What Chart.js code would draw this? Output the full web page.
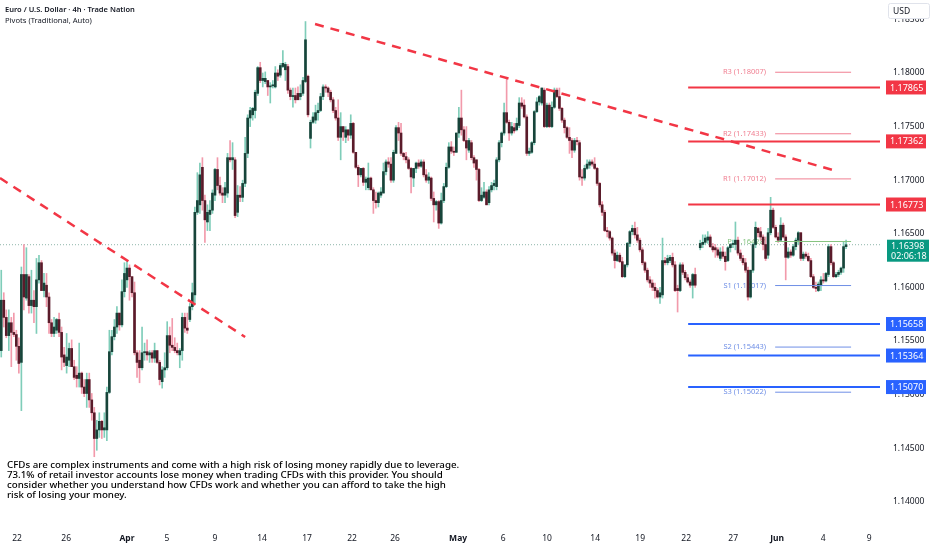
<!DOCTYPE html>
<html>
<head>
<meta charset="utf-8">
<script src="https://cdn.jsdelivr.net/npm/chart.js@4.4.1/dist/chart.umd.min.js"></script>
<style>
  html, body { margin: 0; padding: 0; background: #fff; }
  #wrap { position: relative; width: 932px; height: 550px; }
</style>
</head>
<body>
<div id="wrap"><canvas id="chart" width="932" height="550"></canvas></div>
<script>
// EUR/USD 4h candles (null = gap)
var opens = [
  1.1541,1.1588,1.1572,1.1555,1.1567,1.1558,1.1556,1.1545,1.1530,1.1612,
  1.1590,1.1610,1.1583,1.1588,1.1582,1.1607,1.1623,1.1597,1.1602,1.1591,
  1.1567,1.1557,1.1560,1.1570,1.1558,1.1537,1.1527,1.1532,1.1543,1.1526,
  1.1518,1.1515,1.1520,1.1507,1.1501,1.1514,1.1495,1.1483,1.1459,1.1467,
  1.1475,1.1467,1.1467,1.1502,1.1540,1.1554,1.1563,1.1576,1.1565,1.1596,
  1.1607,1.1618,1.1610,1.1595,1.1539,1.1532,1.1525,1.1539,1.1540,1.1537,
  1.1539,1.1534,1.1541,1.1530,1.1512,1.1523,1.1525,1.1555,1.1546,1.1544,
  1.1541,1.1537,1.1541,1.1572,1.1562,1.1570,1.1582,1.1593,1.1670,1.1677,
  1.1712,1.1681,1.1661,1.1668,1.1672,1.1686,1.1710,1.1695,1.1688,1.1686,
  1.1688,1.1721,1.1719,1.1719,1.1670,1.1686,1.1684,1.1697,1.1725,1.1758,
  1.1761,1.1765,1.1781,1.1805,1.1793,1.1792,1.1793,1.1787,1.1788,1.1787,
  1.1800,1.1798,1.1806,1.1803,1.1806,1.1784,1.1778,1.1779,1.1781,1.1778,
  1.1781,1.1792,1.1797,1.1739,1.1754,1.1756,1.1763,1.1765,1.1778,1.1787,
  1.1786,1.1782,1.1775,1.1765,1.1758,1.1740,1.1750,1.1740,1.1747,1.1742,
  1.1753,1.1726,1.1712,1.1705,1.1711,1.1698,1.1693,1.1702,1.1691,1.1681,
  1.1679,1.1686,1.1688,1.1708,1.1717,1.1715,1.1700,1.1725,1.1749,1.1744,
  1.1725,1.1722,1.1719,1.1711,1.1702,1.1711,1.1716,1.1713,1.1717,1.1705,
  1.1700,1.1702,1.1683,1.1677,1.1680,1.1660,1.1681,1.1694,1.1712,1.1731,
  1.1727,1.1726,1.1744,1.1758,1.1747,1.1737,1.1728,1.1735,1.1721,1.1719,
  1.1710,1.1681,1.1684,1.1689,1.1679,1.1691,1.1695,1.1694,1.1719,1.1735,
  1.1744,1.1763,1.1754,1.1744,1.1749,1.1747,1.1751,1.1772,1.1770,1.1759,
  1.1725,1.1726,1.1735,1.1764,1.1773,1.1772,1.1784,1.1750,1.1770,1.1750,
  1.1768,1.1784,1.1778,1.1767,1.1756,1.1749,1.1740,1.1737,1.1728,1.1737,
  1.1735,1.1703,1.1702,1.1711,1.1714,1.1717,1.1715,1.1711,1.1697,1.1677,
  1.1670,1.1653,1.1652,1.1646,1.1632,1.1625,1.1630,1.1624,1.1610,1.1621,
  1.1641,1.1652,1.1655,1.1649,1.1644,1.1635,1.1623,1.1616,1.1607,1.1604,
  1.1600,1.1597,1.1591,1.1593,1.1625,1.1623,1.1625,1.1628,1.1621,1.1599,
  1.1597,1.1621,1.1614,1.1609,1.1605,1.1602,1.1612,null,
  1.1637,1.1640,1.1642,
  1.1644,1.1647,1.1638,1.1637,1.1635,1.1627,1.1633,1.1629,1.1625,1.1637,
  1.1640,1.1640,1.1644,1.1632,1.1627,1.1623,1.1616,1.1591,1.1616,1.1640,
  1.1655,1.1652,1.1647,1.1640,1.1630,1.1651,1.1672,1.1656,1.1647,1.1644,
  1.1658,1.1647,1.1628,1.1633,1.1630,1.1638,1.1644,1.1651,1.1627,1.1631,
  1.1629,1.1625,1.1610,1.1600,1.1597,1.1602,1.1607,1.1606,1.1612,1.1638,
  1.1623,1.1610,1.1612,1.1614,1.1618,1.1638
];
var highs = [
  1.1616,1.1595,1.1579,1.1579,1.1572,1.1576,1.1560,1.1553,1.1619,1.1640,
  1.1637,1.1612,1.1616,1.1597,1.1627,1.1630,1.1625,1.1613,1.1613,1.1595,
  1.1570,1.1572,1.1571,1.1576,1.1563,1.1544,1.1557,1.1548,1.1551,1.1532,
  1.1526,1.1548,1.1521,1.1514,1.1520,1.1520,1.1501,1.1488,1.1476,1.1483,
  1.1476,1.1483,1.1507,1.1560,1.1560,1.1570,1.1582,1.1576,1.1607,1.1623,
  1.1625,1.1621,1.1610,1.1605,1.1541,1.1541,1.1563,1.1548,1.1551,1.1541,
  1.1541,1.1548,1.1541,1.1532,1.1526,1.1539,1.1568,1.1563,1.1571,1.1553,
  1.1548,1.1543,1.1576,1.1576,1.1576,1.1585,1.1604,1.1675,1.1707,1.1716,
  1.1721,1.1686,1.1677,1.1681,1.1691,1.1711,1.1721,1.1703,1.1693,1.1698,
  1.1725,1.1737,1.1735,1.1721,1.1695,1.1694,1.1700,1.1740,1.1761,1.1768,
  1.1768,1.1784,1.1806,1.1810,1.1800,1.1801,1.1793,1.1791,1.1793,1.1806,
  1.1803,1.1809,1.1821,1.1810,1.1808,1.1786,1.1786,1.1786,1.1787,1.1789,
  1.1796,1.1848,1.1798,1.1756,1.1763,1.1770,1.1772,1.1781,1.1789,1.1789,
  1.1787,1.1784,1.1777,1.1768,1.1775,1.1763,1.1750,1.1750,1.1747,1.1761,
  1.1754,1.1726,1.1714,1.1711,1.1712,1.1703,1.1716,1.1703,1.1693,1.1689,
  1.1689,1.1693,1.1716,1.1719,1.1721,1.1721,1.1728,1.1751,1.1754,1.1753,
  1.1726,1.1726,1.1721,1.1712,1.1711,1.1717,1.1719,1.1719,1.1719,1.1710,
  1.1707,1.1703,1.1689,1.1681,1.1681,1.1688,1.1697,1.1716,1.1735,1.1736,
  1.1731,1.1744,1.1768,1.1784,1.1750,1.1750,1.1739,1.1737,1.1723,1.1719,
  1.1711,1.1693,1.1698,1.1691,1.1694,1.1698,1.1700,1.1721,1.1737,1.1745,
  1.1772,1.1795,1.1756,1.1754,1.1753,1.1758,1.1777,1.1777,1.1775,1.1761,
  1.1730,1.1736,1.1765,1.1777,1.1779,1.1786,1.1786,1.1772,1.1772,1.1773,
  1.1786,1.1786,1.1786,1.1768,1.1758,1.1750,1.1749,1.1739,1.1739,1.1740,
  1.1737,1.1710,1.1714,1.1719,1.1719,1.1719,1.1721,1.1712,1.1698,1.1680,
  1.1672,1.1656,1.1653,1.1647,1.1635,1.1633,1.1632,1.1628,1.1621,1.1642,
  1.1653,1.1658,1.1661,1.1656,1.1646,1.1637,1.1624,1.1618,1.1610,1.1607,
  1.1604,1.1599,1.1600,1.1646,1.1628,1.1630,1.1630,1.1632,1.1624,1.1602,
  1.1623,1.1623,1.1616,1.1612,1.1607,1.1613,1.1618,null,
  1.1644,1.1649,1.1649,
  1.1652,1.1649,1.1641,1.1640,1.1637,1.1637,1.1638,1.1633,1.1638,1.1641,
  1.1644,1.1661,1.1647,1.1635,1.1630,1.1627,1.1619,1.1616,1.1641,1.1661,
  1.1656,1.1656,1.1649,1.1647,1.1655,1.1684,1.1674,1.1658,1.1651,1.1665,
  1.1660,1.1649,1.1637,1.1635,1.1640,1.1646,1.1652,1.1651,1.1633,1.1633,
  1.1632,1.1627,1.1612,1.1605,1.1605,1.1610,1.1613,1.1614,1.1640,1.1640,
  1.1624,1.1614,1.1616,1.1619,1.1642,1.1644
];
var lows = [
  1.1535,1.1563,1.1553,1.1541,1.1526,1.1554,1.1532,1.1520,1.1485,1.1579,
  1.1588,1.1576,1.1576,1.1567,1.1557,1.1604,1.1597,1.1591,1.1582,1.1557,
  1.1554,1.1554,1.1557,1.1554,1.1523,1.1526,1.1520,1.1526,1.1526,1.1514,
  1.1507,1.1507,1.1501,1.1498,1.1488,1.1488,1.1476,1.1442,1.1448,1.1460,
  1.1459,1.1460,1.1457,1.1501,1.1537,1.1551,1.1557,1.1560,1.1563,1.1591,
  1.1600,1.1588,1.1591,1.1537,1.1516,1.1511,1.1523,1.1532,1.1532,1.1530,
  1.1530,1.1530,1.1529,1.1509,1.1506,1.1516,1.1523,1.1539,1.1541,1.1539,
  1.1537,1.1525,1.1532,1.1558,1.1557,1.1568,1.1579,1.1585,1.1668,1.1669,
  1.1672,1.1642,1.1653,1.1653,1.1669,1.1681,1.1691,1.1686,1.1679,1.1679,
  1.1684,1.1717,1.1710,1.1665,1.1666,1.1680,1.1680,1.1694,1.1721,1.1750,
  1.1756,1.1758,1.1779,1.1791,1.1787,1.1790,1.1779,1.1772,1.1786,1.1786,
  1.1793,1.1796,1.1805,1.1793,1.1781,1.1775,1.1768,1.1772,1.1775,1.1775,
  1.1779,1.1791,1.1759,1.1730,1.1753,1.1753,1.1756,1.1764,1.1775,1.1782,
  1.1778,1.1773,1.1763,1.1756,1.1737,1.1719,1.1737,1.1735,1.1737,1.1739,
  1.1725,1.1711,1.1694,1.1703,1.1695,1.1691,1.1691,1.1691,1.1669,1.1674,
  1.1675,1.1684,1.1688,1.1705,1.1712,1.1698,1.1698,1.1725,1.1737,1.1723,
  1.1719,1.1716,1.1710,1.1688,1.1694,1.1707,1.1711,1.1712,1.1703,1.1698,
  1.1697,1.1681,1.1661,1.1672,1.1655,1.1659,1.1679,1.1693,1.1711,1.1725,
  1.1723,1.1726,1.1740,1.1742,1.1736,1.1719,1.1726,1.1719,1.1712,1.1700,
  1.1680,1.1680,1.1683,1.1677,1.1677,1.1689,1.1691,1.1691,1.1717,1.1731,
  1.1742,1.1753,1.1737,1.1742,1.1744,1.1746,1.1749,1.1767,1.1758,1.1723,
  1.1723,1.1725,1.1733,1.1763,1.1770,1.1770,1.1749,1.1749,1.1749,1.1749,
  1.1767,1.1777,1.1765,1.1754,1.1744,1.1739,1.1725,1.1721,1.1726,1.1733,
  1.1700,1.1695,1.1700,1.1710,1.1711,1.1713,1.1710,1.1695,1.1675,1.1667,
  1.1652,1.1647,1.1644,1.1630,1.1618,1.1624,1.1623,1.1609,1.1609,1.1619,
  1.1638,1.1649,1.1646,1.1642,1.1633,1.1621,1.1614,1.1605,1.1600,1.1597,
  1.1590,1.1590,1.1585,1.1590,1.1621,1.1621,1.1623,1.1619,1.1596,1.1577,
  1.1596,1.1612,1.1607,1.1604,1.1600,1.1590,1.1600,null,
  1.1635,1.1637,1.1640,
  1.1641,1.1637,1.1633,1.1628,1.1628,1.1625,1.1627,1.1616,1.1624,1.1633,
  1.1637,1.1635,1.1630,1.1625,1.1621,1.1614,1.1588,1.1590,1.1614,1.1637,
  1.1647,1.1644,1.1635,1.1625,1.1627,1.1649,1.1655,1.1646,1.1642,1.1644,
  1.1646,1.1607,1.1627,1.1628,1.1629,1.1635,1.1640,1.1625,1.1625,1.1627,
  1.1624,1.1609,1.1599,1.1596,1.1596,1.1597,1.1604,1.1605,1.1610,1.1621,
  1.1609,1.1609,1.1610,1.1612,1.1614,1.1636
];
var closes = [
  1.1588,1.1572,1.1555,1.1567,1.1558,1.1556,1.1545,1.1529,1.1612,1.1591,
  1.1612,1.1583,1.1588,1.1582,1.1607,1.1623,1.1597,1.1604,1.1591,1.1567,
  1.1557,1.1563,1.1570,1.1558,1.1535,1.1530,1.1535,1.1543,1.1526,1.1516,
  1.1515,1.1520,1.1507,1.1501,1.1514,1.1495,1.1483,1.1459,1.1467,1.1475,
  1.1467,1.1469,1.1502,1.1540,1.1554,1.1563,1.1576,1.1565,1.1596,1.1613,
  1.1618,1.1610,1.1595,1.1539,1.1530,1.1525,1.1539,1.1540,1.1537,1.1539,
  1.1534,1.1541,1.1530,1.1514,1.1523,1.1525,1.1555,1.1546,1.1544,1.1541,
  1.1539,1.1541,1.1572,1.1562,1.1560,1.1582,1.1595,1.1670,1.1681,1.1705,
  1.1681,1.1663,1.1670,1.1672,1.1688,1.1710,1.1695,1.1688,1.1686,1.1693,
  1.1721,1.1719,1.1721,1.1667,1.1686,1.1684,1.1697,1.1725,1.1758,1.1765,
  1.1767,1.1782,1.1805,1.1793,1.1795,1.1795,1.1787,1.1788,1.1789,1.1800,
  1.1797,1.1807,1.1809,1.1808,1.1784,1.1778,1.1779,1.1775,1.1775,1.1781,
  1.1793,1.1831,1.1761,1.1754,1.1759,1.1763,1.1765,1.1778,1.1787,1.1786,
  1.1782,1.1775,1.1765,1.1758,1.1740,1.1750,1.1745,1.1747,1.1742,1.1753,
  1.1726,1.1712,1.1705,1.1711,1.1698,1.1701,1.1702,1.1691,1.1681,1.1679,
  1.1688,1.1689,1.1708,1.1717,1.1715,1.1700,1.1726,1.1749,1.1744,1.1725,
  1.1722,1.1719,1.1711,1.1703,1.1711,1.1716,1.1713,1.1717,1.1705,1.1700,
  1.1703,1.1683,1.1677,1.1680,1.1660,1.1681,1.1694,1.1712,1.1731,1.1727,
  1.1726,1.1744,1.1758,1.1747,1.1737,1.1730,1.1737,1.1721,1.1716,1.1710,
  1.1681,1.1686,1.1689,1.1677,1.1691,1.1695,1.1697,1.1719,1.1735,1.1744,
  1.1763,1.1754,1.1744,1.1750,1.1746,1.1753,1.1772,1.1769,1.1759,1.1725,
  1.1727,1.1735,1.1764,1.1773,1.1778,1.1786,1.1750,1.1770,1.1750,1.1768,
  1.1784,1.1778,1.1767,1.1756,1.1749,1.1740,1.1737,1.1728,1.1737,1.1736,
  1.1703,1.1702,1.1711,1.1715,1.1717,1.1715,1.1711,1.1697,1.1677,1.1670,
  1.1653,1.1652,1.1646,1.1632,1.1625,1.1630,1.1624,1.1610,1.1621,1.1641,
  1.1652,1.1655,1.1649,1.1644,1.1635,1.1623,1.1616,1.1607,1.1604,1.1600,
  1.1597,1.1591,1.1595,1.1625,1.1623,1.1627,1.1628,1.1621,1.1597,1.1597,
  1.1621,1.1614,1.1609,1.1605,1.1602,1.1612,1.1602,null,
  1.1641,1.1642,1.1646,
  1.1647,1.1638,1.1635,1.1635,1.1630,1.1633,1.1629,1.1624,1.1637,1.1640,
  1.1641,1.1644,1.1632,1.1627,1.1623,1.1616,1.1591,1.1616,1.1640,1.1656,
  1.1651,1.1647,1.1640,1.1627,1.1651,1.1672,1.1656,1.1647,1.1644,1.1658,
  1.1647,1.1628,1.1633,1.1630,1.1638,1.1644,1.1651,1.1627,1.1631,1.1629,
  1.1625,1.1610,1.1600,1.1599,1.1603,1.1607,1.1606,1.1613,1.1638,1.1623,
  1.1610,1.1612,1.1614,1.1618,1.1638,1.16398
];

// time axis labels (candle index where each label sits)
var tickPos = [6.3, 25.8, 50.0, 65.9, 85.0, 103.7, 121.6, 139.5, 156.6, 181.7, 199.6, 217.1, 236.2, 254.1, 272.4, 291.1, 308.6, 326.9, 345.2];
var tickText = ['22', '26', 'Apr', '5', '9', '14', '17', '22', '26', 'May', '6', '10', '14', '19', '22', '27', 'Jun', '4', '9'];
var priceTicks = [1.140, 1.145, 1.150, 1.155, 1.160, 1.165, 1.170, 1.175, 1.180, 1.185];

// drawn levels
var resistLevels = [1.17865, 1.17362, 1.16773];
var supportLevels = [1.15658, 1.15364, 1.15070];
var pivotNames = ['R3', 'R2', 'R1', 'P', 'S1', 'S2', 'S3'];
var pivotValues = [1.18007, 1.17433, 1.17012, 1.16428, 1.16017, 1.15443, 1.15022];
var trendA = [{ x: -0.5, y: 1.17020 }, { x: 97.0, y: 1.15537 }];
var trendB = [{ x: 124.8, y: 1.18457 }, { x: 330.8, y: 1.17095 }];
var lastPrice = 1.16398;
var countdown = '02:06:18';

var disclaimer = [
  'CFDs are complex instruments and come with a high risk of losing money rapidly due to leverage.',
  '73.1% of retail investor accounts lose money when trading CFDs with this provider. You should',
  'consider whether you understand how CFDs work and whether you can afford to take the high',
  'risk of losing your money.'
];

var X_MIN = -0.5, X_MAX = 349.5;
var LEVEL_FROM = 273.2;
var PIVOT_FROM = 307.8, PIVOT_TO = 338.0, PIVOT_LABEL_AT = 304.2;
var FONT = '"Noto Sans", Roboto, sans-serif';
var UP_BODY = '#17443a', UP_WICK = '#7fcdb9';
var DN_BODY = '#5a1b2a', DN_WICK = '#f29aab';
var RED = '#f23645', BLUE = '#2962ff', TEAL = '#089981';

function isUp(i) { return closes[i] >= opens[i]; }

var wickPts = [], bodyPts = [];
opens.forEach(function (o, i) {
  if (o === null) return;
  wickPts.push({ x: i, y: [lows[i], highs[i]] });
  bodyPts.push({ x: i, y: [o, closes[i]] });
});

function hline(v, from, to) { return [{ x: from, y: v }, { x: to, y: v }]; }
function lineSet(data, color, width, dash, order) {
  return {
    type: 'line', data: data, borderColor: color, borderWidth: width,
    borderDash: dash || [], pointRadius: 0, tension: 0, fill: false, order: order
  };
}
function pivotColor(n) {
  if (n[0] === 'R') return '#f07f91';
  if (n[0] === 'S') return '#6f8fe6';
  return '#86c480';
}

var datasets = [];
datasets.push(lineSet(hline(lastPrice, X_MIN, X_MAX), '#8fb5aa', 1, [1, 2], 9));
datasets.push({
  type: 'bar', data: wickPts, grouped: false, barThickness: 1, order: 8,
  backgroundColor: function (c) { return isUp(c.raw.x) ? UP_WICK : DN_WICK; }
});
datasets.push({
  type: 'bar', data: bodyPts, grouped: false, barThickness: 2, minBarLength: 1, order: 7,
  backgroundColor: function (c) { return isUp(c.raw.x) ? UP_BODY : DN_BODY; }
});
pivotValues.forEach(function (v, i) {
  datasets.push(lineSet(hline(v, PIVOT_FROM, PIVOT_TO), pivotColor(pivotNames[i]), 1, null, 3));
});
resistLevels.forEach(function (v) { datasets.push(lineSet(hline(v, LEVEL_FROM, X_MAX), RED, 2, null, 2)); });
supportLevels.forEach(function (v) { datasets.push(lineSet(hline(v, LEVEL_FROM, X_MAX), BLUE, 2, null, 2)); });
datasets.push(lineSet(trendA, RED, 2.5, [9, 7], 1));
datasets.push(lineSet(trendB, RED, 2.5, [9, 7], 1));

function fitSize(ctx, text, weight, width) {
  ctx.font = weight + ' 10px ' + FONT;
  return 10 * width / ctx.measureText(text).width;
}

function priceBox(ctx, y, color, text) {
  ctx.fillStyle = color;
  ctx.fillRect(886, y - 7, 40, 14);
  ctx.fillStyle = '#fff';
  ctx.font = '9px ' + FONT;
  ctx.textAlign = 'left';
  ctx.textBaseline = 'middle';
  ctx.fillText(text, 890, y + 0.5);
}

function noPad(s) { s.paddingTop = 0; s.paddingBottom = 0; s.paddingLeft = 0; s.paddingRight = 0; }

var overlay = {
  id: 'overlay',
  beforeDatasetsDraw: function (chart) {
    var ctx = chart.ctx, xs = chart.scales.x, ys = chart.scales.y;
    ctx.save();
    ctx.font = '7.5px ' + FONT;
    ctx.textAlign = 'right';
    ctx.textBaseline = 'middle';
    pivotNames.forEach(function (n, i) {
      ctx.fillStyle = pivotColor(n);
      ctx.fillText(n + ' (' + pivotValues[i].toFixed(5) + ')', xs.getPixelForValue(PIVOT_LABEL_AT), ys.getPixelForValue(pivotValues[i]));
    });
    ctx.restore();
  },
  afterDraw: function (chart) {
    var ctx = chart.ctx, ys = chart.scales.y;
    ctx.save();

    // header
    var title = 'Euro / U.S. Dollar \u00b7 4h \u00b7 Trade Nation';
    ctx.fillStyle = '#131722';
    ctx.textAlign = 'left';
    ctx.textBaseline = 'middle';
    ctx.font = '600 ' + fitSize(ctx, title, '600', 130) + 'px ' + FONT;
    ctx.fillText(title, 5, 10);
    var sub = 'Pivots (Traditional, Auto)';
    ctx.font = fitSize(ctx, sub, 'normal', 87) + 'px ' + FONT;
    ctx.fillText(sub, 5, 21);

    // disclaimer
    var ds = fitSize(ctx, disclaimer[0], '500', 453);
    ctx.font = '500 ' + ds + 'px ' + FONT;
    ctx.fillStyle = '#000';
    disclaimer.forEach(function (t, i) { ctx.fillText(t, 7, 465.5 + i * 10); });

    // level tags on the price axis
    resistLevels.forEach(function (v) { priceBox(ctx, ys.getPixelForValue(v), RED, v.toFixed(5)); });
    supportLevels.forEach(function (v) { priceBox(ctx, ys.getPixelForValue(v), BLUE, v.toFixed(5)); });

    // last price tag
    var ly = ys.getPixelForValue(lastPrice);
    ctx.fillStyle = TEAL;
    ctx.fillRect(887, ly - 5, 42, 22);
    ctx.fillStyle = '#fff';
    ctx.font = '9px ' + FONT;
    ctx.fillText(lastPrice.toFixed(5), 891, ly + 1.5);
    ctx.fillText(countdown, 891, ly + 11.5);

    // currency button
    ctx.fillStyle = '#fff';
    ctx.strokeStyle = '#e0e3eb';
    ctx.lineWidth = 1;
    ctx.beginPath();
    ctx.roundRect(888.5, 3.5, 41, 15, 2);
    ctx.fill();
    ctx.stroke();
    ctx.fillStyle = '#131722';
    ctx.font = '8.5px ' + FONT;
    ctx.fillText('USD', 893, 11.5);
    ctx.restore();
  }
};

new Chart(document.getElementById('chart'), {
  type: 'bar',
  data: { datasets: datasets },
  plugins: [overlay],
  options: {
    responsive: false,
    animation: false,
    layout: { padding: 0 },
    plugins: { legend: { display: false }, tooltip: { enabled: false } },
    scales: {
      x: {
        type: 'linear', min: X_MIN, max: X_MAX, offset: false,
        grid: { display: false, drawTicks: false }, border: { display: false },
        afterBuildTicks: function (s) { s.ticks = tickPos.map(function (v) { return { value: v }; }); },
        afterFit: function (s) { s.height = 22; noPad(s); },
        ticks: {
          autoSkip: false, maxRotation: 0, padding: 5, color: '#131722',
          callback: function (v, i) { return tickText[i]; },
          font: function (c) {
            var t = tickText[c.index] || '';
            return { family: FONT, size: 8.5, weight: /^[A-Z]/.test(t) ? 'bold' : 'normal' };
          }
        }
      },
      y: {
        type: 'linear', position: 'right', min: 1.13755, max: 1.18681,
        grid: { display: false, drawTicks: false }, border: { display: false },
        afterBuildTicks: function (s) { s.ticks = priceTicks.map(function (v) { return { value: v }; }); },
        afterFit: function (s) { s.width = 52; noPad(s); },
        ticks: {
          padding: 13, color: '#131722', font: { family: FONT, size: 8.5 },
          callback: function (v) { return v.toFixed(5); }
        }
      }
    }
  }
});
</script>
</body>
</html>
